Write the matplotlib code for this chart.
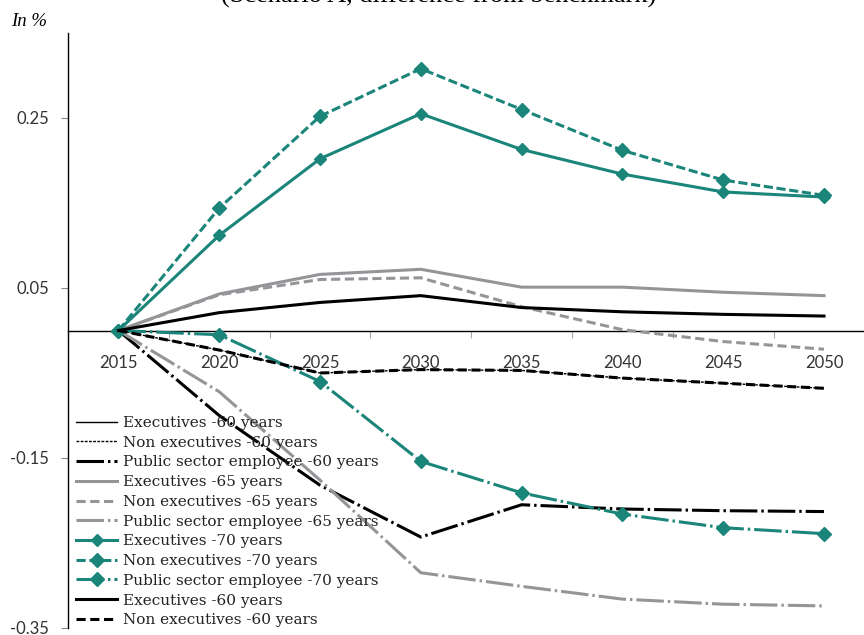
import matplotlib
matplotlib.use("Agg")
import matplotlib.pyplot as plt
from matplotlib.ticker import FixedLocator

years = ["2015", "2020", "2025", "2030", "2035", "2040", "2045", "2050"]

exec_60 = [0.0, 0.021, 0.033, 0.041, 0.027, 0.022, 0.019, 0.017]
nonexec_60 = [0.0, -0.023, -0.050, -0.046, -0.047, -0.056, -0.062, -0.068]
public_60 = [0.0, -0.100, -0.182, -0.243, -0.205, -0.210, -0.212, -0.213]
exec_65 = [0.0, 0.043, 0.066, 0.072, 0.051, 0.051, 0.045, 0.041]
nonexec_65 = [0.0, 0.042, 0.060, 0.062, 0.028, 0.001, -0.013, -0.022]
public_65 = [0.0, -0.072, -0.176, -0.285, -0.301, -0.316, -0.322, -0.324]
exec_70 = [0.0, 0.112, 0.202, 0.255, 0.213, 0.184, 0.163, 0.157]
nonexec_70 = [0.0, 0.144, 0.252, 0.308, 0.260, 0.212, 0.177, 0.159]
public_70 = [0.0, -0.005, -0.060, -0.154, -0.191, -0.216, -0.232, -0.239]

labels = [
    "Executives -60 years",
    "Non executives -60 years",
    "Public sector employee -60 years",
    "Executives -65 years",
    "Non executives -65 years",
    "Public sector employee -65 years",
    "Executives -70 years",
    "Non executives -70 years",
    "Public sector employee -70 years",
    "Executives -60 years",
    "Non executives -60 years",
]

TEAL = "#1b857a"
GRAY = "#939598"
BLACK = "#000000"

fig = plt.figure(figsize=(8.64, 6.35), dpi=100)
W, H = 864, 635
ax = fig.add_axes([68 / W, 7 / H, (W - 68) / W, (628 - 33) / H])

x = list(range(len(years)))

dashdot = (0, (9, 1.3, 0.8, 1.3))
handles = []
# thin -60 (hidden under thick ones)
handles.append(ax.plot(x, exec_60, color=BLACK, lw=1.0, zorder=2)[0])
handles.append(ax.plot(x, nonexec_60, color=BLACK, lw=1.0, ls=(0, (2, 1)), zorder=2)[0])
handles.append(ax.plot(x, public_60, color=BLACK, lw=2.2, ls=dashdot, zorder=3)[0])
handles.append(ax.plot(x, exec_65, color=GRAY, lw=2.2, zorder=3)[0])
handles.append(ax.plot(x, nonexec_65, color=GRAY, lw=2.2, ls=(0, (3, 1.5)), zorder=3)[0])
handles.append(ax.plot(x, public_65, color=GRAY, lw=2.2, ls=dashdot, zorder=3)[0])
handles.append(ax.plot(x, exec_70, color=TEAL, lw=2.2, marker="D", ms=6.5, zorder=4)[0])
handles.append(ax.plot(x, nonexec_70, color=TEAL, lw=2.2, ls=(0, (3, 1.2)), marker="D", ms=7.5, zorder=4)[0])
handles.append(ax.plot(x, public_70, color=TEAL, lw=2.2, ls=dashdot, marker="D", ms=7.5, zorder=4)[0])
handles.append(ax.plot(x, exec_60, color=BLACK, lw=2.2, zorder=5)[0])
handles.append(ax.plot(x, nonexec_60, color=BLACK, lw=2.2, ls=(0, (3, 1.5)), zorder=5)[0])

ax.set_ylim(-0.35, 0.35)
ax.set_xlim(-0.5, 7 + 40 / 100.8)

ax.spines["top"].set_visible(False)
ax.spines["right"].set_visible(False)
ax.spines["bottom"].set_position(("data", 0))
ax.spines["bottom"].set_linewidth(1.0)
ax.spines["left"].set_linewidth(1.0)

tick_font = dict(family="Lato", size=12, color="#333333")
ax.set_yticks([-0.35, -0.15, 0.05, 0.25])
ax.set_yticklabels(["-0.35", "-0.15", "0.05", "0.25"], fontdict=tick_font)
ax.tick_params(axis="y", direction="out", length=5, width=0.8, color="#888888", pad=8.5)

ax.set_xticks(x)
ax.set_xticklabels(years, fontdict=tick_font)
ax.tick_params(axis="x", which="major", length=0, pad=18)
ax.xaxis.set_minor_locator(FixedLocator([i + 0.5 for i in range(-1, 8)]))
ax.tick_params(axis="x", which="minor", direction="out", length=5, width=0.8, color="#aaaaaa")

leg = ax.legend(handles, labels, loc="upper left",
                bbox_to_anchor=(76 / W, 1 - 416 / H), bbox_transform=fig.transFigure,
                frameon=False, prop=dict(family="DejaVu Serif", size=11),
                labelspacing=0.375, handlelength=2.7, handletextpad=0.35,
                borderpad=0, borderaxespad=0)
for t in leg.get_texts():
    t.set_color("#222222")

fig.text(439 / W, 1 - 3 / H, "(Scenario A, difference from benchmark)",
         ha="center", va="baseline", family="Liberation Serif", fontsize=19)
fig.text(11 / W, 1 - 26 / H, "In %", ha="left", va="baseline",
         family="Liberation Serif", style="italic", fontsize=13.5)

fig.savefig("out.png", dpi=100)
